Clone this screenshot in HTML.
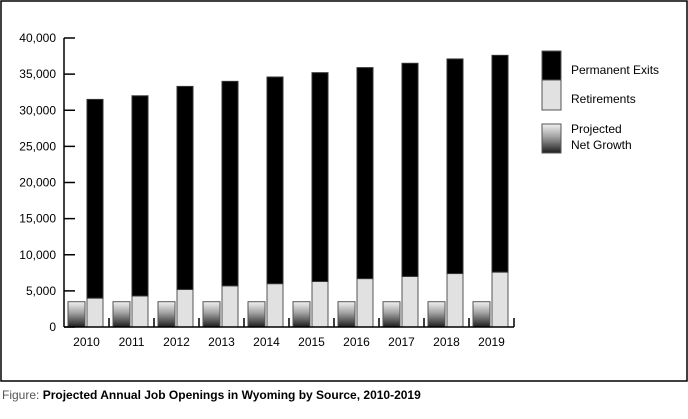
<!DOCTYPE html>
<html><head><meta charset="utf-8"><style>
body{margin:0;background:#fff;}
svg text{font-family:"Liberation Sans",sans-serif;}
</style></head><body>
<svg width="688" height="414">
<defs>
<linearGradient id="ng" x1="0" y1="0" x2="0" y2="1">
<stop offset="0" stop-color="#f2f2f2"/><stop offset="0.45" stop-color="#a0a0a0"/><stop offset="1" stop-color="#1e1e1e"/>
</linearGradient>
</defs>
<rect x="1" y="1" width="686" height="380" fill="none" stroke="#000" stroke-width="1.5"/>
<g id="plot"></g>
<g>
<rect x="542" y="51" width="19" height="29" fill="#000" stroke="#555"/>
<rect x="542" y="80" width="19" height="30" fill="#e1e1e1" stroke="#555"/>
<rect x="542" y="124" width="19" height="29" fill="url(#ng)" stroke="#555"/>
<text x="571" y="74" font-size="12">Permanent Exits</text>
<text x="571" y="103" font-size="12">Retirements</text>
<text x="571" y="133" font-size="12">Projected</text>
<text x="571" y="149" font-size="12">Net Growth</text>
</g>
<text x="2" y="399" font-size="12" font-weight="bold"><tspan fill="#555" font-weight="normal">Figure: </tspan>Projected Annual Job Openings in Wyoming by Source, 2010-2019</text>
</svg>
<script>
const years=["2010","2011","2012","2013","2014","2015","2016","2017","2018","2019"];
const netGrowth=[3500,3500,3500,3500,3500,3500,3500,3500,3500,3500];
const retirements=[4000,4300,5200,5700,6000,6300,6700,7000,7400,7600];
const permanentExits=[27500,27700,28100,28300,28600,28900,29200,29500,29700,30000];
const yTicks=[0,5000,10000,15000,20000,25000,30000,35000,40000];
const yTickLabels=["0","5,000","10,000","15,000","20,000","25,000","30,000","35,000","40,000"];
const NS="http://www.w3.org/2000/svg";
const g=document.getElementById('plot');
const x0=64,cw=45,y0=327,yMax=40000,yTop=38;
const y=v=>y0-(v/yMax)*(y0-yTop);
function mk(t,a){const e=document.createElementNS(NS,t);for(const k in a)e.setAttribute(k,a[k]);g.appendChild(e);return e;}
years.forEach((yr,i)=>{
 const cx=x0+i*cw;
 let r=mk('rect',{x:cx+4,y:y(netGrowth[i]),width:17,height:y0-y(netGrowth[i]),fill:'url(#ng)',stroke:'#555'});
 
 
 r=mk('rect',{x:cx+23,y:y(retirements[i]),width:16,height:y0-y(retirements[i]),fill:'#e1e1e1',stroke:'#555'});
 
 
 const tot=retirements[i]+permanentExits[i];
 r=mk('rect',{x:cx+23,y:y(tot),width:16,height:y(retirements[i])-y(tot),fill:'#000',stroke:'#333'});
 
 
 const t=mk('text',{x:cx+22.5,y:346,'font-size':12,'text-anchor':'middle'});t.textContent=yr;
 
 
 const tk=mk('line',{x1:cx+cw,x2:cx+cw,y1:y0,y2:y0-9,stroke:'#000','stroke-width':1.5});
 
 
});
yTicks.forEach((v,i)=>{
 const l=mk('line',{x1:x0,x2:x0+11,y1:y(v),y2:y(v),stroke:'#000','stroke-width':1.5});
 
 
 const t=mk('text',{x:56,y:y(v)+4,'font-size':12,'text-anchor':'end'});t.textContent=yTickLabels[i];
 
 
});
let a=mk('line',{x1:x0,x2:x0,y1:y(yMax),y2:y0,stroke:'#000','stroke-width':1.5});


a=mk('line',{x1:x0,x2:x0+years.length*cw,y1:y0,y2:y0,stroke:'#000','stroke-width':1.5});


</script>
</body></html>
